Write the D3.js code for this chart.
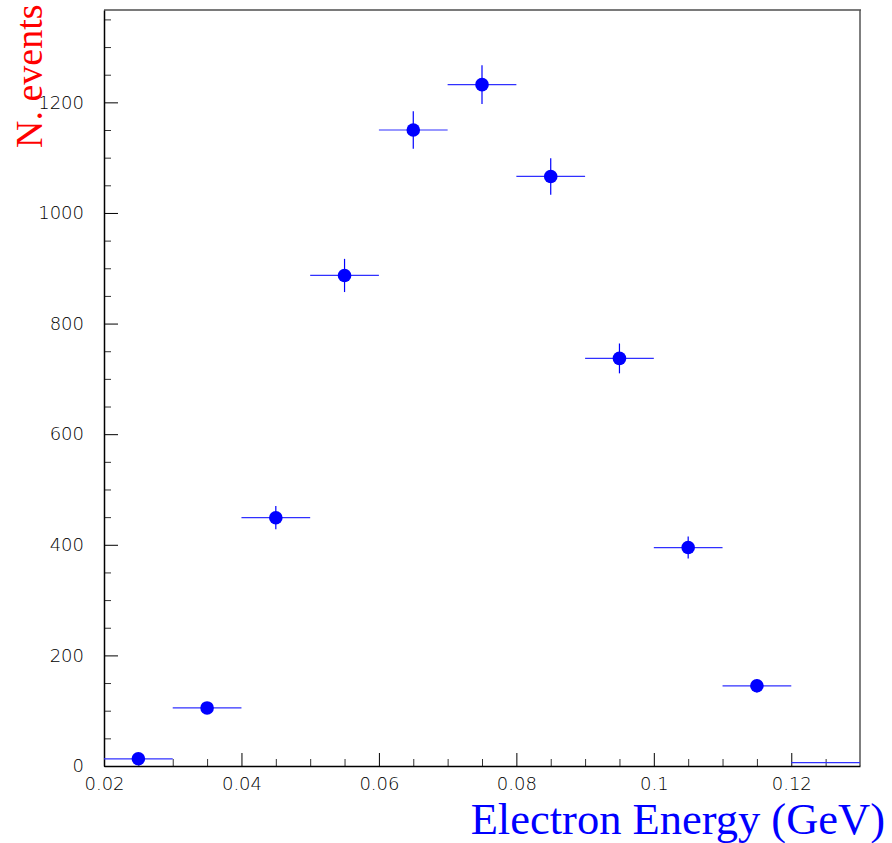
<!DOCTYPE html>
<html>
<head>
<meta charset="utf-8">
<script src="https://cdn.jsdelivr.net/npm/d3@7"></script>
<style>
  body { margin: 0; background: #fff; }
  svg { display: block; }
</style>
</head>
<body>
<div id="chart"></div>
<script>
// bin centres (GeV), counts and errors
var binCenters = [0.025, 0.035, 0.045, 0.055, 0.065, 0.075, 0.085, 0.095, 0.105, 0.115, 0.125];
var binCounts  = [13, 105, 449, 887, 1150, 1232, 1066, 737, 395, 145, 6];
var binErrors  = [4, 10, 21, 30, 34, 35, 33, 27, 20, 12, 2];
var showMarker = [true, true, true, true, true, true, true, true, true, true, false];
var binHalfWidth = 0.005;

var xMajorTicks = [0.02, 0.04, 0.06, 0.08, 0.1, 0.12];
var xMinorTicks = [0.025, 0.03, 0.035, 0.045, 0.05, 0.055, 0.065, 0.07, 0.075, 0.085, 0.09, 0.095, 0.105, 0.11, 0.115, 0.125];
var yMajorTicks = [0, 200, 400, 600, 800, 1000, 1200];
var yMinorTicks = [50, 100, 150, 250, 300, 350, 450, 500, 550, 650, 700, 750, 850, 900, 950, 1050, 1100, 1150, 1250, 1300, 1350];

var width = 892, height = 843;
var plotLeft = 104, plotRight = 860, plotTop = 10, plotBottom = 766;

var svg = d3.select("#chart").append("svg")
    .attr("width", width)
    .attr("height", height);

var x = d3.scaleLinear().domain([0.02, 0.13]).range([plotLeft, plotRight]);
var y = d3.scaleLinear().domain([0, 1367]).range([plotBottom, plotTop]);

// frame (top and right)
svg.append("line")
    .attr("x1", plotLeft).attr("x2", plotRight + 1)
    .attr("y1", plotTop).attr("y2", plotTop)
    .attr("stroke", "#7a7a7a").attr("stroke-width", 2);
svg.append("line")
    .attr("x1", plotRight).attr("x2", plotRight)
    .attr("y1", plotTop).attr("y2", plotBottom)
    .attr("stroke", "#555").attr("stroke-width", 1.5);

var tickFont = "'DejaVu Sans', Verdana, sans-serif";

// x axis: minor then major ticks
svg.append("g")
    .attr("transform", "translate(0," + plotBottom + ")")
    .call(d3.axisBottom(x).tickValues(xMinorTicks).tickSizeInner(-7).tickSizeOuter(0).tickFormat(""))
    .call(g => g.select(".domain").remove())
    .call(g => g.selectAll(".tick line").attr("stroke", "#333"));

var xAxis = svg.append("g")
    .attr("transform", "translate(0," + plotBottom + ")")
    .call(d3.axisBottom(x).tickValues(xMajorTicks).tickSizeInner(-13).tickSizeOuter(0).tickPadding(11)
        .tickFormat(d => String(+d.toFixed(2))));
xAxis.select(".domain").attr("stroke", "#000").attr("stroke-width", 1.5);
xAxis.selectAll(".tick line").attr("stroke", "#000");
xAxis.selectAll("text")
    .attr("font-family", tickFont).attr("font-size", 18).attr("font-weight", 200)
    .attr("fill", "#000");

// y axis: minor then major ticks
svg.append("g")
    .attr("transform", "translate(" + plotLeft + ",0)")
    .call(d3.axisLeft(y).tickValues(yMinorTicks).tickSizeInner(-7).tickSizeOuter(0).tickFormat(""))
    .call(g => g.select(".domain").remove())
    .call(g => g.selectAll(".tick line").attr("stroke", "#333"));

var yAxis = svg.append("g")
    .attr("transform", "translate(" + plotLeft + ",0)")
    .call(d3.axisLeft(y).tickValues(yMajorTicks).tickSizeInner(-14).tickSizeOuter(0).tickPadding(20)
        .tickFormat(d3.format("d")));
yAxis.select(".domain").attr("stroke", "#000").attr("stroke-width", 1.5);
yAxis.selectAll(".tick line").attr("stroke", "#000");
yAxis.selectAll("text")
    .attr("font-family", tickFont).attr("font-size", 18).attr("font-weight", 200)
    .attr("fill", "#000");

// data
var points = binCenters.map((c, i) => ({x: c, n: binCounts[i], e: binErrors[i], m: showMarker[i]}));

var marks = svg.append("g").attr("class", "points");

// horizontal bars = bin width
marks.selectAll(".hbar")
    .data(points)
    .enter().append("line")
    .attr("class", "hbar")
    .attr("x1", d => x(d.x - binHalfWidth))
    .attr("x2", d => x(d.x + binHalfWidth))
    .attr("y1", d => y(d.n))
    .attr("y2", d => y(d.n))
    .attr("stroke", "#3030ff").attr("stroke-width", 1.2);

// vertical error bars
marks.selectAll(".vbar")
    .data(points.filter(d => d.m))
    .enter().append("line")
    .attr("class", "vbar")
    .attr("x1", d => x(d.x))
    .attr("x2", d => x(d.x))
    .attr("y1", d => y(d.n - d.e))
    .attr("y2", d => y(d.n + d.e))
    .attr("stroke", "#0000ff").attr("stroke-width", 1.2);

// markers
marks.selectAll(".dot")
    .data(points.filter(d => d.m))
    .enter().append("circle")
    .attr("class", "dot")
    .attr("cx", d => x(d.x))
    .attr("cy", d => y(d.n))
    .attr("r", 6.8)
    .attr("fill", "#0000ff");

// axis titles
svg.append("text")
    .attr("transform", "translate(42,148) rotate(-90)")
    .attr("font-family", "'Liberation Serif', 'Times New Roman', serif")
    .attr("font-size", 38)
    .attr("fill", "#ff0000")
    .text("N. events");

svg.append("text")
    .attr("x", 885).attr("y", 834)
    .attr("text-anchor", "end")
    .attr("font-family", "'Liberation Serif', 'Times New Roman', serif")
    .attr("font-size", 44.5)
    .attr("fill", "#0000ff")
    .text("Electron Energy (GeV)");
</script>
</body>
</html>
